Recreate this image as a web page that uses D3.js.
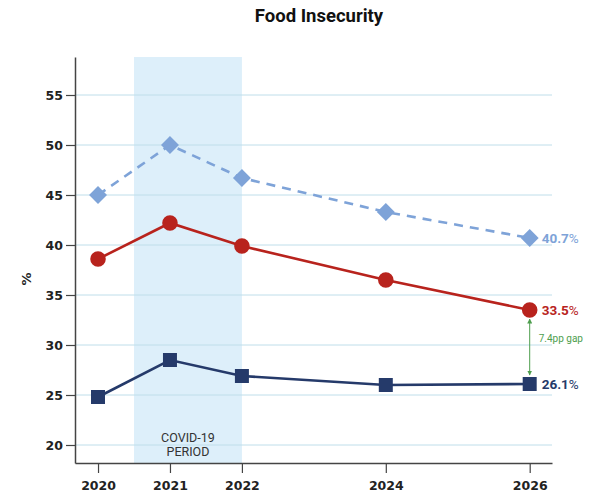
<!DOCTYPE html>
<html>
<head>
<meta charset="utf-8">
<script src="https://cdn.jsdelivr.net/npm/d3@7"></script>
<style>
  html, body { margin: 0; padding: 0; background: #fff; }
  svg { display: block; font-family: Roboto, "Liberation Sans", Arial, sans-serif; }
</style>
</head>
<body>
<svg id="chart" width="601" height="495"></svg>
<script>
// Food insecurity rates by year (%)
const years = [2020, 2021, 2022, 2024, 2026];
const seriesLight = [45.0, 50.0, 46.7, 43.3, 40.7];
const seriesRed = [38.6, 42.2, 39.9, 36.5, 33.5];
const seriesNavy = [24.8, 28.5, 26.9, 26.0, 26.1];
const yTicks = [20, 25, 30, 35, 40, 45, 50, 55];
const xTicks = [2020, 2021, 2022, 2024, 2026];
const covidPeriod = [2020.5, 2022];
const endLabels = ["40.7%", "33.5%", "26.1%"];
const gapLabel = "7.4pp gap";

const svg = d3.select("#chart");
const tickFont = "'DejaVu Sans', Verdana, sans-serif";

const x = d3.scaleLinear().domain([2019.68, 2026.31]).range([75, 552]);
const y = d3.scaleLinear().domain([18.2, 58.8]).range([463, 57]);

// Title
svg.append("text")
  .attr("x", 319).attr("y", 22)
  .attr("text-anchor", "middle")
  .attr("font-size", 18.5).attr("font-weight", 700)
  .attr("fill", "#111")
  .text("Food Insecurity");

// COVID-19 shaded period
svg.append("rect")
  .attr("x", x(covidPeriod[0])).attr("y", y.range()[1])
  .attr("width", x(covidPeriod[1]) - x(covidPeriod[0]))
  .attr("height", y.range()[0] - y.range()[1])
  .attr("fill", "#ddeffa");

// Horizontal gridlines
svg.append("g").selectAll("line").data(yTicks).join("line")
  .attr("x1", x.range()[0]).attr("x2", x.range()[1])
  .attr("y1", d => y(d)).attr("y2", d => y(d))
  .attr("stroke", "#bfdeea").attr("stroke-width", 1);

// Y axis
const yAxis = svg.append("g")
  .attr("transform", `translate(${x.range()[0]},0)`)
  .call(d3.axisLeft(y).tickValues(yTicks).tickSize(9).tickPadding(3).tickSizeOuter(0));
yAxis.select(".domain").attr("stroke", "#444").attr("stroke-width", 1.5);
yAxis.selectAll(".tick line").attr("stroke", "#444").attr("stroke-width", 1.2);
yAxis.selectAll(".tick text")
  .attr("font-size", 12.5).attr("font-weight", 700).attr("fill", "#222")
  .attr("font-family", tickFont);

// X axis
const xAxis = svg.append("g")
  .attr("transform", `translate(0,${y.range()[0]})`)
  .call(d3.axisBottom(x).tickValues(xTicks).tickFormat(d3.format("d")).tickSize(10).tickPadding(8).tickSizeOuter(0));
xAxis.select(".domain").attr("stroke", "#444").attr("stroke-width", 1.5);
xAxis.selectAll(".tick line").attr("stroke", "#444").attr("stroke-width", 1.2);
xAxis.selectAll(".tick text")
  .attr("font-size", 12.5).attr("font-weight", 700).attr("fill", "#222")
  .attr("font-family", tickFont);

// Y axis title
svg.append("text")
  .attr("transform", "translate(31,279) rotate(-90)")
  .attr("text-anchor", "middle")
  .attr("font-size", 13).attr("font-weight", 700).attr("fill", "#222")
  .attr("font-family", tickFont)
  .text("%");

// COVID-19 period label
const covidMid = x((covidPeriod[0] + covidPeriod[1]) / 2);
const covidText = svg.append("text")
  .attr("text-anchor", "middle")
  .attr("font-size", 12.5).attr("fill", "#333");
covidText.append("tspan").attr("x", covidMid).attr("y", 442).text("COVID-19");
covidText.append("tspan").attr("x", covidMid).attr("y", 456).text("PERIOD");

const line = d3.line().x((d, i) => x(years[i])).y(d => y(d));

const series = [
  { values: seriesLight, color: "#7ea3d8", dash: "9,7", symbol: d3.symbolDiamond2, size: 205, label: endLabels[0] },
  { values: seriesRed, color: "#b8231d", dash: null, symbol: d3.symbolCircle, size: 190, label: endLabels[1] },
  { values: seriesNavy, color: "#253a6a", dash: null, symbol: d3.symbolSquare, size: 196, label: endLabels[2] }
];

series.forEach(s => {
  svg.append("path")
    .datum(s.values)
    .attr("d", line)
    .attr("fill", "none")
    .attr("stroke", s.color)
    .attr("stroke-width", 2.6)
    .attr("stroke-dasharray", s.dash);
});

series.forEach(s => {
  svg.append("g").selectAll("path").data(s.values).join("path")
    .attr("transform", (d, i) => `translate(${x(years[i])},${y(d)})`)
    .attr("d", d3.symbol().type(s.symbol).size(s.size))
    .attr("fill", s.color);

  const last = s.values[s.values.length - 1];
  const lbl = svg.append("text")
    .attr("x", x(years[years.length - 1]) + 12)
    .attr("y", y(last))
    .attr("dy", "0.35em")
    .attr("font-size", 13.5)
    .attr("fill", s.color);
  const num = s.label.replace("%", "");
  lbl.append("tspan").attr("font-weight", 700).text(num);
  lbl.append("tspan").attr("font-weight", 400).text("%");
});

// Gap annotation between red and navy end points
const gx = x(years[years.length - 1]);
const defs = svg.append("defs");
defs.append("marker")
  .attr("id", "gapArrow")
  .attr("viewBox", "0 0 10 10")
  .attr("refX", 9).attr("refY", 5)
  .attr("markerWidth", 5).attr("markerHeight", 5)
  .attr("orient", "auto-start-reverse")
  .append("path").attr("d", "M0,0 L10,5 L0,10 z").attr("fill", "#4e9e4e");

const yTop = y(seriesRed[seriesRed.length - 1]) + 9;
const yBot = y(seriesNavy[seriesNavy.length - 1]) - 9;
svg.append("line")
  .attr("x1", gx).attr("x2", gx)
  .attr("y1", yTop).attr("y2", yBot)
  .attr("stroke", "#4e9e4e").attr("stroke-width", 1)
  .attr("marker-start", "url(#gapArrow)")
  .attr("marker-end", "url(#gapArrow)");

svg.append("text")
  .attr("x", gx + 9)
  .attr("y", (yTop + yBot) / 2 - 9)
  .attr("dy", "0.35em")
  .attr("font-size", 10)
  .attr("fill", "#4e9e4e")
  .text(gapLabel);
</script>
</body>
</html>
